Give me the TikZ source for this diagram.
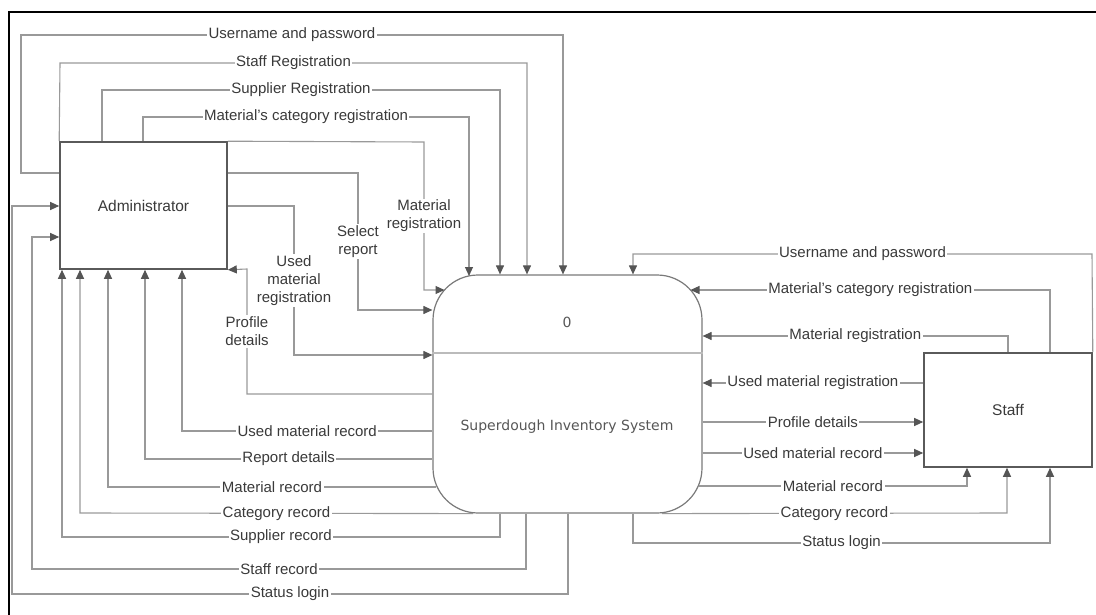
\documentclass[tikz,border=0pt]{standalone}
\usepackage{fontspec}
\setmainfont{Liberation Sans}
\newfontfamily\procfont{DejaVu Sans}
\usetikzlibrary{arrows.meta}
\definecolor{wire}{HTML}{999999}
\definecolor{tipc}{HTML}{555555}
\definecolor{ink}{HTML}{3A3A3A}
\definecolor{boxline}{HTML}{5A5A5A}
\definecolor{procline}{HTML}{7A7A7A}
\definecolor{divider}{HTML}{BBBBBB}

\begin{document}
\begin{tikzpicture}[x=1pt,y=-1pt,
  flow/.style={draw=wire, line width=1.1pt},
  to/.style={flow, -{Triangle[length=9pt,width=8pt,color=tipc]}},
  lbl/.style={fill=white, inner sep=1.5pt, text=ink, align=center,
    font=\fontsize{15}{18}\selectfont},
  entity/.style={draw=boxline, line width=1.6pt, fill=white, text=ink,
    font=\fontsize{15.5}{17}\selectfont},
  proctext/.style={text=ink!85, font=\procfont\fontsize{14}{16}\selectfont},
]
\useasboundingbox (0,0) rectangle (1096,615);

% page frame
\draw[black, line width=1.4pt] (1096,12) -- (9,12) -- (9,615);

% external entities and the process
\node[entity, minimum width=167pt, minimum height=127pt] (admin) at (143.5,205.5) {Administrator};
\node[entity, minimum width=168pt, minimum height=114pt] (staff) at (1008,410) {Staff};
\node[draw=procline, line width=1.2pt, fill=white, rounded corners=45pt,
      minimum width=269pt, minimum height=238pt] (proc) at (567.5,394) {};
\draw[divider, line width=1.2pt] (proc.west |- 0,353) -- (proc.east |- 0,353);
\node[proctext] (pnum) at (567,322) {0};
\node[proctext] (pname) at (567,427) {Superdough Inventory System};

% Administrator -> system (over the top)
\draw[to] (admin.west |- 0,173) -- (21,173) -- (21,35)
  -- node[lbl]{Username and password} (563,35) -- (proc.north -| 563,0);
\draw[to] (admin.north west) -- (60,63)
  -- node[lbl]{Staff Registration} (527,63) -- (proc.north -| 527,0);
\draw[to] (admin.north -| 102,0) -- (102,90)
  -- node[lbl]{Supplier Registration} (500,90) -- (proc.north -| 500,0);
\draw[to] (admin.north -| 143,0) -- (143,117)
  -- node[lbl]{Material's category registration} (469,117) -- (469,276);

% Administrator -> system (from the right side)
\draw[to] (admin.north east) -- (424,142)
  -- node[lbl]{Material\\registration} (424,290) -- (444.5,290);
\draw[to] (admin.east |- 0,173) -- (358,173)
  -- node[lbl]{Select\\report} (358,310) -- (proc.west |- 0,310);
\draw[to] (admin.east |- 0,206) -- (294,206)
  -- node[lbl]{Used\\material\\registration} (294,355) -- (proc.west |- 0,355);

% system -> Administrator
\draw[to] (proc.west |- 0,394) -- (247,394)
  -- node[lbl]{Profile\\details} (247,269) -- (admin.south east);
\draw[to] (proc.west |- 0,431) -- node[lbl]{Used material record} (182,431) -- (admin.south -| 182,0);
\draw[to] (proc.west |- 0,459) -- node[lbl]{Report details} (145,459) -- (admin.south -| 145,0);
\draw[to] (436,487) -- node[lbl]{Material record} (108,487) -- (admin.south -| 108,0);
\draw[to] (proc.south -| 473,0) -- node[lbl]{Category record} (80,513) -- (admin.south -| 80,0);
\draw[to] (proc.south -| 500,0) -- (500,537)
  -- node[lbl]{Supplier record} (62,537) -- (admin.south -| 62,0);
\draw[to] (proc.south -| 526,0) -- (526,569)
  -- node[lbl]{Staff record} (32,569) -- (32,237) -- (admin.west |- 0,237);
\draw[to] (proc.south -| 568,0) -- (568,594)
  -- node[lbl]{Status login} (12,594) -- (12,206) -- (admin.west |- 0,206);

% Staff -> system
\draw[to] (staff.north east) -- (1092,254)
  -- node[lbl]{Username and password} (633,254) -- (proc.north -| 633,0);
\draw[to] (staff.north -| 1050,0) -- (1050,290)
  -- node[lbl]{Material's category registration} (690.5,290);
\draw[to] (staff.north -| 1008,0) -- (1008,336)
  -- node[lbl]{Material registration} (proc.east |- 0,336);
\draw[to] (staff.west |- 0,383) -- node[lbl]{Used material registration} (proc.east |- 0,383);

% system -> Staff
\draw[to] (proc.east |- 0,422) -- node[lbl]{Profile details} (staff.west |- 0,422);
\draw[to] (proc.east |- 0,453) -- node[lbl]{Used material record} (staff.west |- 0,453);
\draw[to] (699,486) -- node[lbl]{Material record} (967,486) -- (staff.south -| 967,0);
\draw[to] (proc.south -| 662,0) -- node[lbl]{Category record} (1007,513) -- (staff.south -| 1007,0);
\draw[to] (proc.south -| 633,0) -- (633,543)
  -- node[lbl]{Status login} (1050,543) -- (staff.south -| 1050,0);
\end{tikzpicture}
\end{document}
